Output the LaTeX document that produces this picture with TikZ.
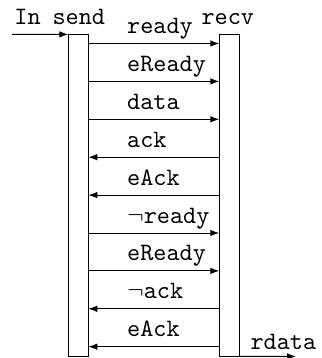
\documentclass[tikz,border=0pt]{standalone}
\usepackage{tikz}
\usepackage{amssymb}
\usetikzlibrary{positioning,arrows.meta}

\begin{document}
\begin{tikzpicture}
                [x=0.4pt, y=-0.4pt, >={Latex[length=3.6pt,width=2.6pt]}, font=\ttfamily,
                 bar/.style = {draw, minimum width=8pt, minimum height=128.8pt, inner sep=0pt, outer sep=0pt},
                 lbl/.style = {anchor=base west, inner sep=0pt}]
    
                \useasboundingbox (0,0) rectangle (321,358);
    
                \node[bar] (send) at (78.3,195.4) {};
                \node[bar] (recv) at (229.3,195.4) {};
    
                \node[lbl] (inlbl) at (14,25) {In};
                \node[lbl] (sendlbl) at (52,25) {send};
                \node[lbl] (recvlbl) at (201,25) {recv};
                \node[lbl] (outlbl) at (250,349) {rdata};
    
                \coordinate (in) at (12,34.4);
                \coordinate (out) at (296,356.4);
                \draw[->] (in) to (send.north west);
                \draw[->] (recv.south east) to (out);
    
                \foreach \msg/\a/\b [count=\k from 0] in
                    {ready/l/r, eReady/l/r, data/l/r, ack/r/l, eAck/r/l,
                     $\neg$ready/l/r, eReady/l/r, $\neg$ack/r/l, eAck/r/l}
                {
                    \pgfmathsetmacro{\y}{43.5+37.9*\k}
                    \coordinate (l\k) at (88.3,\y);
                    \coordinate (r\k) at (219.3,\y);
                    \draw[->] (\a\k) to (\b\k);
                    \node[lbl] (m\k) at (126.7,\y-10) {\msg};
                }
            \end{tikzpicture}
\end{document}
